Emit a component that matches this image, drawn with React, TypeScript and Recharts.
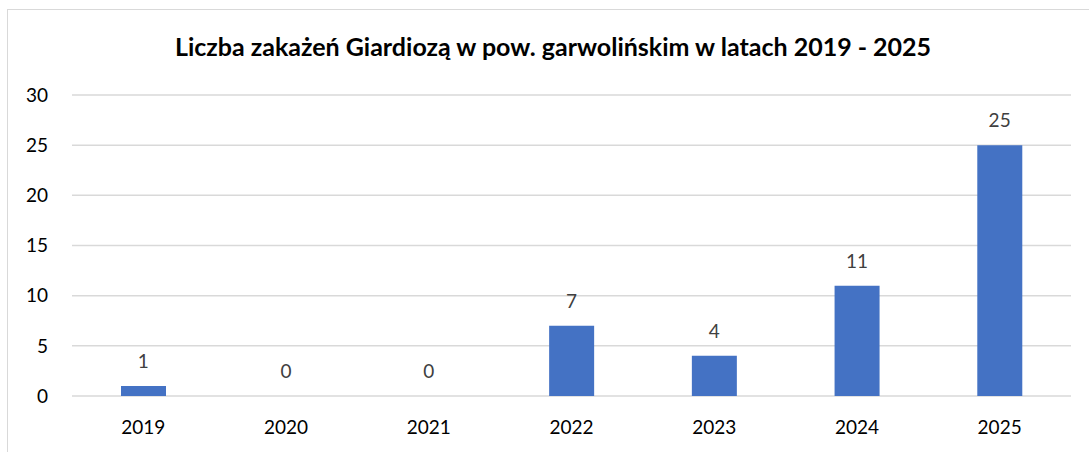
import React from 'react'
import { ComposedChart, Bar, Line, XAxis, YAxis, CartesianGrid, LabelList } from 'recharts'

const years = ['2019', '2020', '2021', '2022', '2023', '2024', '2025']
const cases = [1, 0, 0, 7, 4, 11, 25]
const yTicks = [0, 5, 10, 15, 20, 25, 30]
const title = 'Liczba zakażeń Giardiozą w pow. garwolińskim w latach 2019 - 2025'

const chartData = years.map((year, i) => ({ year, cases: cases[i] }))

const font = 'Lato, "Noto Sans", sans-serif'

// labels hang off an invisible line so that zero values still get their "0"
const ValueLabel = (props: any) => {
  const { x, y, value } = props
  if (value === undefined || value === null) return null
  return (
    <text x={x} y={Number(y) - 18} textAnchor="middle" fill="#404040" fontSize={19} fontFamily={font}>
      {value}
    </text>
  )
}

export default function App() {
  return (
    <div style={{ position: 'absolute', left: 0, top: 0, width: 1089, height: 452, overflow: 'hidden', background: '#fff' }}>
      <div
        style={{
          position: 'absolute',
          left: 7,
          top: 9,
          width: 1100,
          height: 460,
          border: '1.5px solid #d9d9d9',
          boxSizing: 'border-box',
        }}
      />
      <div
        style={{
          position: 'absolute',
          left: 0,
          width: 1106,
          top: 31,
          textAlign: 'center',
          fontFamily: font,
          fontWeight: 700,
          fontSize: 25,
          color: '#000',
          lineHeight: '30px',
          whiteSpace: 'nowrap',
        }}
      >
        {title}
      </div>
      <div style={{ position: 'absolute', left: 0, top: 0 }}>
        <ComposedChart
          width={1089}
          height={452}
          data={chartData}
          margin={{ top: 95, right: 18, bottom: 0, left: 0 }}
          barSize={45}
        >
          <CartesianGrid vertical={false} stroke="#d9d9d9" strokeWidth={1.5} />
          <XAxis
            dataKey="year"
            axisLine={false}
            tickLine={false}
            tickSize={0}
            tickMargin={25}
            height={56}
            tick={{ fill: '#000', fontSize: 19, fontFamily: font }}
          />
          <YAxis
            domain={[0, 30]}
            ticks={yTicks}
            axisLine={false}
            tickLine={false}
            tickSize={0}
            tickMargin={24}
            width={72}
            tick={{ fill: '#000', fontSize: 19, fontFamily: font }}
          />
          <Bar dataKey="cases" fill="#4472C4" isAnimationActive={false} />
          <Line
            dataKey="cases"
            stroke="none"
            dot={false}
            activeDot={false}
            legendType="none"
            isAnimationActive={false}
          >
            <LabelList dataKey="cases" content={ValueLabel} />
          </Line>
        </ComposedChart>
      </div>
    </div>
  )
}
